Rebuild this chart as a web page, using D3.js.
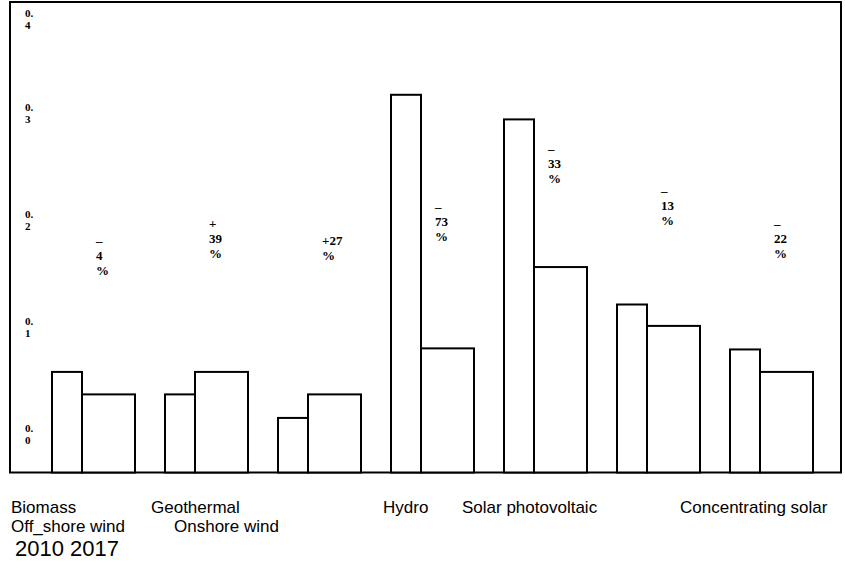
<!DOCTYPE html>
<html>
<head>
<meta charset="utf-8">
<script src="https://cdn.jsdelivr.net/npm/d3@7"></script>
<style>
  body { margin: 0; background: #fff; }
  svg { display: block; }
</style>
</head>
<body>
<svg id="chart" width="845" height="566"></svg>
<script>
// Data (cost, USD/kWh)
const technologies = ['Biomass', 'Geothermal', 'Hydro', 'Solar photovoltaic',
                      'Concentrating solar', 'Off_shore wind', 'Onshore wind'];
const years = ['2010', '2017'];
const values2010 = [0.094, 0.073, 0.051, 0.353, 0.330, 0.157, 0.115];
const values2017 = [0.073, 0.094, 0.073, 0.116, 0.192, 0.137, 0.094];
// change labels, wrapped the way the picture wraps them
const changeLabels = [['–', '4', '%'], ['+', '39', '%'], ['+27', '%'], ['–', '73', '%'],
                      ['–', '33', '%'], ['–', '13', '%'], ['–', '22', '%']];
const yTicks = [0, 0.1, 0.2, 0.3, 0.4];

// category names under the chart, laid out in two rows
const nameRows = [
  { y: 513, items: [['Biomass', 11], ['Geothermal', 151], ['Hydro', 383],
                    ['Solar photovoltaic', 462], ['Concentrating solar', 680]] },
  { y: 532, items: [['Off_shore wind', 11], ['Onshore wind', 174]] }
];

const svg = d3.select('#chart');

const frame = { left: 10, top: 2, right: 841, bottom: 472.5 };

// Scales
const y = d3.scaleLinear().domain([0, 0.4]).range([frame.bottom, frame.bottom - 428]);
const labelY = d3.scaleLinear().domain([0, 0.4]).range([301, -8]);
const x = d3.scaleBand()
    .domain(technologies)
    .range([52, 813])
    .paddingInner(30 / 113)
    .paddingOuter(0);
const firstShare = 30 / 83;

// Frame
svg.append('rect')
    .attr('x', frame.left)
    .attr('y', frame.top)
    .attr('width', frame.right - frame.left)
    .attr('height', frame.bottom - frame.top)
    .attr('fill', 'none')
    .attr('stroke', '#000')
    .attr('stroke-width', 2);

// Y tick labels (wrapped "0." / digit)
const tickLabels = svg.append('g')
    .attr('font-family', '"Liberation Serif", "Times New Roman", serif')
    .attr('font-weight', 'bold')
    .attr('font-size', 11)
    .attr('fill', '#000');

yTicks.forEach(t => {
    const s = d3.format('.1f')(t);
    const base = Math.max(17, y(t) - 40.5);
    const txt = tickLabels.append('text').attr('x', 25).attr('y', base);
    txt.append('tspan').attr('x', 25).attr('y', base).text(s.slice(0, 2));
    txt.append('tspan').attr('x', 25).attr('y', base + 11.5).text(s.slice(2));
});

// Bars
const groups = svg.append('g').selectAll('g')
    .data(technologies)
    .join('g');

groups.append('rect')
    .attr('x', d => x(d))
    .attr('y', (d, i) => y(values2010[i]))
    .attr('width', x.bandwidth() * firstShare)
    .attr('height', (d, i) => y(0) - y(values2010[i]))
    .attr('fill', '#fff')
    .attr('stroke', '#000')
    .attr('stroke-width', 2);

groups.append('rect')
    .attr('x', d => x(d) + x.bandwidth() * firstShare)
    .attr('y', (d, i) => y(values2017[i]))
    .attr('width', x.bandwidth() * (1 - firstShare))
    .attr('height', (d, i) => y(0) - y(values2017[i]))
    .attr('fill', '#fff')
    .attr('stroke', '#000')
    .attr('stroke-width', 2);

// Change labels
groups.append('text')
    .attr('font-family', '"Liberation Serif", "Times New Roman", serif')
    .attr('font-weight', 'bold')
    .attr('font-size', 13)
    .attr('fill', '#000')
    .each(function (d, i) {
        const lx = x(d) + x.bandwidth() * firstShare + 14;
        const ly = labelY(values2017[i]);
        d3.select(this).selectAll('tspan')
            .data(changeLabels[i])
            .join('tspan')
            .attr('x', lx)
            .attr('y', (s, j) => ly + j * 15)
            .text(s => s);
    });

// Bottom names
const names = svg.append('g')
    .attr('font-family', '"Liberation Sans", Arial, sans-serif')
    .attr('font-size', 17)
    .attr('fill', '#000');

nameRows.forEach(row => {
    row.items.forEach(([name, nx]) => {
        names.append('text').attr('x', nx).attr('y', row.y).text(name);
    });
});

// Year legend
svg.append('text')
    .attr('x', 15)
    .attr('y', 556)
    .attr('font-family', '"Liberation Sans", Arial, sans-serif')
    .attr('font-size', 22)
    .attr('fill', '#000')
    .text(years.join(' '));
</script>
</body>
</html>
